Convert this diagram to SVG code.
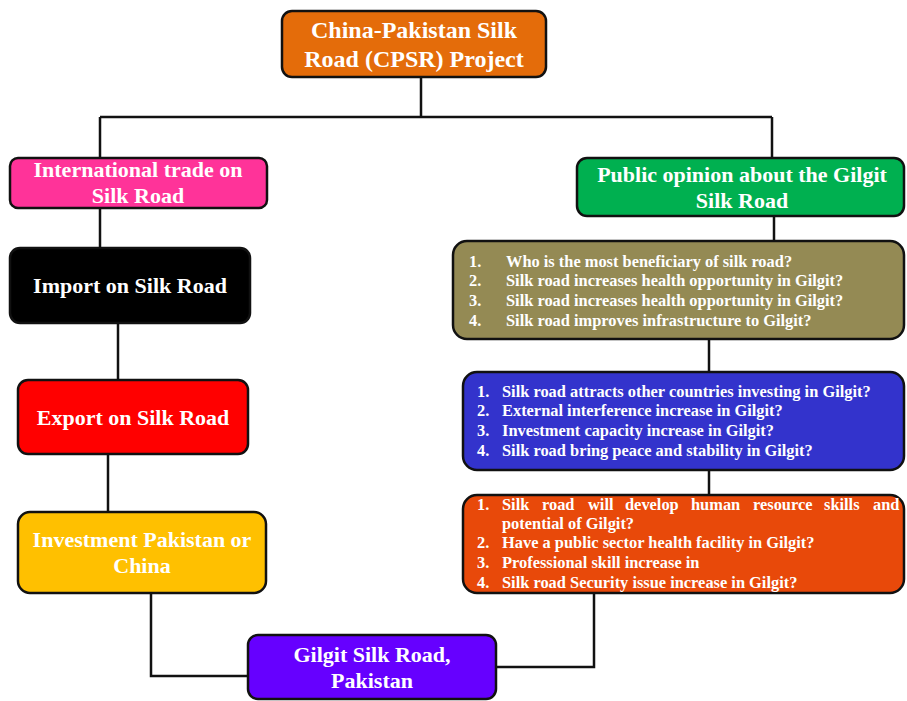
<svg xmlns="http://www.w3.org/2000/svg" width="907" height="701" viewBox="0 0 907 701">
<style>
.box{stroke:#111;stroke-width:2.5}
.t{font-family:"Liberation Serif","Times New Roman",serif;font-weight:bold;fill:#fff;text-anchor:middle}
.h{font-size:22px}
.l{font-family:"Liberation Serif","Times New Roman",serif;font-weight:bold;fill:#fff;font-size:16.4px}
.c{fill:none;stroke:#111;stroke-width:2.5}
</style>
<rect width="907" height="701" fill="#fff"/>
<g id="connectors">
<path class="c" d="M421 77V117M100 117H772M100 117V158M772 117V158"/>
<path class="c" d="M100 208V248"/>
<path class="c" d="M118 323V380"/>
<path class="c" d="M108 454V512"/>
<path class="c" d="M151 593V676H248"/>
<path class="c" d="M774 216V241"/>
<path class="c" d="M709 339V372"/>
<path class="c" d="M709 470V495"/>
<path class="c" d="M496 667H594V593"/>
</g>
<g id="cpsr">
<rect class="box" x="282" y="11" width="264" height="66" rx="10" fill="#e46c0a"/>
<text class="t" x="414" y="38" font-size="24">China-Pakistan Silk</text>
<text class="t" x="414" y="67" font-size="24">Road (CPSR) Project</text>
</g>
<g id="trade">
<rect class="box" x="10" y="158" width="257" height="50" rx="8" fill="#ff3399"/>
<text class="t h" x="138" y="177">International trade on</text>
<text class="t h" x="138" y="203">Silk Road</text>
</g>
<g id="import">
<rect class="box" x="10" y="248" width="240" height="75" rx="10" fill="#000"/>
<text class="t h" x="130" y="293">Import on Silk Road</text>
</g>
<g id="export">
<rect class="box" x="18" y="380" width="230" height="74" rx="10" fill="#ff0000"/>
<text class="t h" x="133" y="425">Export on Silk Road</text>
</g>
<g id="investment">
<rect class="box" x="18" y="512" width="248" height="81" rx="12" fill="#ffc000"/>
<text class="t h" x="142" y="547">Investment Pakistan or</text>
<text class="t h" x="142" y="573">China</text>
</g>
<g id="gilgit">
<rect class="box" x="248" y="635" width="248" height="64" rx="10" fill="#6600ff"/>
<text class="t h" x="372" y="662">Gilgit Silk Road,</text>
<text class="t h" x="372" y="688">Pakistan</text>
</g>
<g id="opinion">
<rect class="box" x="577" y="158" width="327" height="58" rx="10" fill="#00b050"/>
<text class="t h" x="742" y="182">Public opinion about the Gilgit</text>
<text class="t h" x="742" y="208">Silk Road</text>
</g>
<g id="questions1">
<rect class="box" x="453" y="241" width="451" height="98" rx="14" fill="#948a54"/>
<text class="l" x="469" y="267">1.</text><text class="l" x="506" y="267">Who is the most beneficiary of silk road?</text>
<text class="l" x="469" y="286">2.</text><text class="l" x="506" y="286">Silk road increases health opportunity in Gilgit?</text>
<text class="l" x="469" y="306">3.</text><text class="l" x="506" y="306">Silk road increases health opportunity in Gilgit?</text>
<text class="l" x="469" y="326">4.</text><text class="l" x="506" y="326">Silk road improves infrastructure to Gilgit?</text>
</g>
<g id="questions2">
<rect class="box" x="463" y="372" width="441" height="98" rx="14" fill="#3333cc"/>
<text class="l" x="477" y="397">1.</text><text class="l" x="502" y="397">Silk road attracts other countries investing in Gilgit?</text>
<text class="l" x="477" y="416">2.</text><text class="l" x="502" y="416">External interference increase in Gilgit?</text>
<text class="l" x="477" y="436">3.</text><text class="l" x="502" y="436">Investment capacity increase in Gilgit?</text>
<text class="l" x="477" y="456">4.</text><text class="l" x="502" y="456">Silk road bring peace and stability in Gilgit?</text>
</g>
<g id="questions3">
<rect class="box" x="463" y="495" width="441" height="98" rx="14" fill="#e8490a"/>
<text class="l" x="477" y="510">1.</text><text class="l" y="510"><tspan x="502">Silk</tspan><tspan x="542">road</tspan><tspan x="588">will</tspan><tspan x="625">develop</tspan><tspan x="691">human</tspan><tspan x="753">resource</tspan><tspan x="824">skills</tspan><tspan x="873">and</tspan></text>
<text class="l" x="502" y="529">potential of Gilgit?</text>
<text class="l" x="477" y="548">2.</text><text class="l" x="502" y="548">Have a public sector health facility in Gilgit?</text>
<text class="l" x="477" y="568">3.</text><text class="l" x="502" y="568">Professional skill increase in</text>
<text class="l" x="477" y="588">4.</text><text class="l" x="502" y="588">Silk road Security issue increase in Gilgit?</text>
</g>
</svg>
